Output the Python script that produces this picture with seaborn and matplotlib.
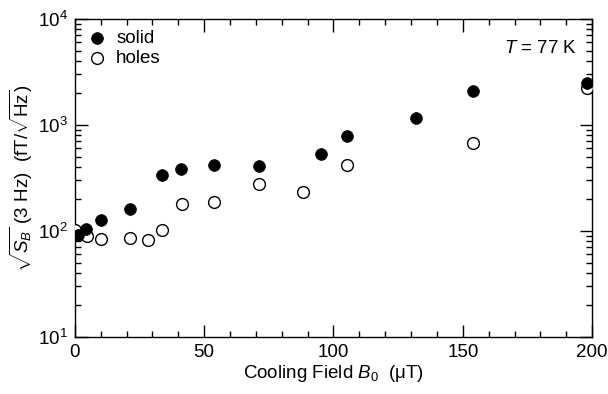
import numpy as np
import pandas as pd
import matplotlib
matplotlib.use('Agg')
import matplotlib.pyplot as plt
import seaborn as sns
from matplotlib.ticker import LogLocator, MultipleLocator, NullFormatter

sns.set_style('ticks')
plt.rcParams['font.family'] = ['Liberation Sans', 'DejaVu Sans']
plt.rcParams['mathtext.fontset'] = 'custom'
plt.rcParams['mathtext.rm'] = 'Liberation Sans'
plt.rcParams['mathtext.it'] = 'Liberation Sans:italic'
plt.rcParams['mathtext.bf'] = 'Liberation Sans:bold'
plt.rcParams['text.color'] = 'black'
plt.rcParams['axes.labelcolor'] = 'black'

# solid sample
solid_b0 = [1.4, 4.4, 10.2, 21.3, 33.9, 41.2, 54, 71.1, 95.1, 105.1, 131.9, 154, 197.8]
solid_sb = [92, 104, 125, 160, 337, 382, 420, 413, 525, 788, 1164, 2066, 2472]
# sample with holes
holes_b0 = [0.1, 4.6, 10.2, 21.3, 28.2, 33.9, 41.4, 54, 71.1, 88.1, 105.1, 154, 197.8]
holes_sb = [102, 90, 83.5, 85, 81.7, 101.5, 177, 188, 276, 232, 422, 676, 2218]

df_solid = pd.DataFrame({'B0': solid_b0, 'SB': solid_sb})
df_holes = pd.DataFrame({'B0': holes_b0, 'SB': holes_sb})

fig = plt.figure(figsize=(6.08, 3.94), dpi=100)
ax = fig.add_axes([0.123, 0.1455, 0.851, 0.8065])

sns.scatterplot(data=df_holes, x='B0', y='SB', ax=ax, marker='o', s=72,
                facecolor='white', edgecolor='black', linewidth=1.0,
                label='holes', zorder=3)
sns.scatterplot(data=df_solid, x='B0', y='SB', ax=ax, marker='o', s=72,
                color='black', edgecolor='black', linewidth=0.5,
                label='solid', zorder=4)

ax.set_yscale('log')
ax.set_xlim(0, 200)
ax.set_ylim(10, 1e4)
ax.xaxis.set_major_locator(MultipleLocator(50))
ax.xaxis.set_minor_locator(MultipleLocator(10))
ax.yaxis.set_major_locator(LogLocator(base=10))
ax.yaxis.set_minor_locator(LogLocator(base=10, subs=np.arange(2, 10)))
ax.yaxis.set_minor_formatter(NullFormatter())

ax.tick_params(which='both', direction='in', top=True, right=True,
               labelsize=13.5, width=1.0, colors='black')
ax.tick_params(which='major', length=9, pad=5)
ax.tick_params(which='minor', length=4.5)
for sp in ax.spines.values():
    sp.set_linewidth(1.0)
    sp.set_color('black')

ax.set_xlabel(r'Cooling Field $B_0$  (μT)', fontsize=13.5, labelpad=2)
ax.set_ylabel(r'$\sqrt{S_B}$ (3 Hz)  (fT/$\sqrt{\mathrm{Hz}}$)', fontsize=13.5, labelpad=2)

handles, labels = ax.get_legend_handles_labels()
order = [labels.index('solid'), labels.index('holes')]
ax.legend([handles[i] for i in order], [labels[i] for i in order],
          loc='upper left', frameon=False, fontsize=13.5, handletextpad=0.4,
          borderaxespad=0.4, labelspacing=0.15, handlelength=1.2,
          borderpad=0.2)

ax.text(0.97, 0.935, r'$T$ = 77 K', transform=ax.transAxes, ha='right',
        va='top', fontsize=13.5)

fig.savefig('out.png', dpi=100)
